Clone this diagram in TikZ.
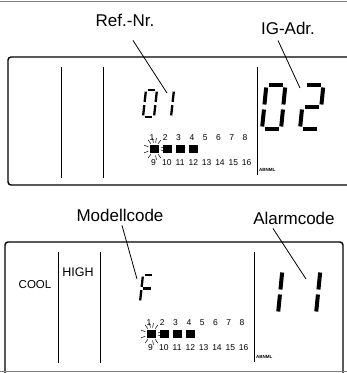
\documentclass[tikz,border=0pt]{standalone}
\usepackage{fontspec}
\setmainfont{Liberation Sans}
\usetikzlibrary{positioning}

% one seven-segment digit: #1 = place and size, #2 = segments as x1/y1/x2/y2
\newcommand\segdigit[2]{%
  \begin{scope}[#1]
    \foreach \xa/\ya/\xb/\yb in {#2}
      \draw (\xa,\ya) -- (\xb,\yb);
  \end{scope}}

\begin{document}
\begin{tikzpicture}[x=1pt,y=-1pt,
   lab/.style={font=\fontsize{17}{17}\selectfont,inner sep=0pt},
   lead/.style={line width=0.8pt},
   panel/.style={line width=1.4pt,rounded corners=3pt},
   bar/.style={line width=0.9pt},
   num/.style={font=\fontsize{8.5}{8.5}\selectfont,inner sep=0pt},
   sq/.style={fill,minimum size=8.5pt,inner sep=0pt},
   ray/.style={line width=0.5pt},
   tag/.style={font=\bfseries\fontsize{4.5}{4.5}\selectfont,inner sep=0pt,anchor=west},
   bigdig/.style={x=19pt,y=22pt,xslant=0.1,line width=4pt,shorten <=2.5pt,shorten >=2.5pt},
   smalldig/.style={x=11pt,y=13.5pt,xslant=0.11,line width=2.3pt,shorten <=1.6pt,shorten >=1.6pt}]
  \useasboundingbox (0,0) rectangle (347,373);
  \draw[gray,line width=1pt] (0,1) -- (347,1);

  % upper display
  \draw[panel] (348,57) -- (8,57) -- (8,185) -- (348,185);
  \draw[bar] (61,67) -- (61,178);
  \draw[bar] (103,67) -- (103,178);
  \draw[bar] (257,67) -- (257,175);
  \node[lab] (refnr) at (125,20) {Ref.-Nr.};
  \node[lab] (igadr) at (288,28) {IG-Adr.};
  \segdigit{shift={(143,117)},smalldig}{0/2/1/2, 1/2/1/1, 1/1/1/0, 0/0/1/0, 0/0/0/1, 0/1/0/2}
  \segdigit{shift={(160,117)},smalldig}{1/2/1/1, 1/1/1/0}
  \segdigit{shift={(262,129)},bigdig}{0/2/1/2, 1/2/1/1, 1/1/1/0, 0/0/1/0, 0/0/0/1, 0/1/0/2}
  \segdigit{shift={(300,129)},bigdig}{0/2/1/2, 1/2/1/1, 0/1/1/1, 0/1/0/0, 0/0/1/0}
  \foreach \i in {1,...,8} {
    \pgfmathtruncatemacro\j{\i+8}
    \node[num] (nU\i) at ({152+13.3*(\i-1)},138) {\i};
    \node[num] (nU\j) at ({153.5+13.3*(\i-1)},163) {\j};
  }
  \foreach \i in {0,...,3}
    \node[sq] (sqU\i) at (154.5+13*\i,149) {};
  \foreach \a in {10,55,80,125,160,200,235,260,280,305,350}
    \draw[ray] (sqU0) ++(\a:6.5) -- ++(\a:4.5);
  \node[tag] (abnmlU) at (259,170) {ABNML};
  \coordinate (refend) at (167,93);
  \coordinate (igend) at (300,88);
  \draw[lead] ([shift={(8,14)}]refnr.south) -- (refend);
  \draw[lead] ([shift={(-10,6)}]igadr.south) -- (igend);

  % lower display
  \draw[panel] (5,374) -- (5,242) -- (343,242) -- (343,374);
  \draw[gray,line width=1pt] (0,371) -- (347,371);
  \draw[bar] (58,252) -- (58,363);
  \draw[bar] (100,252) -- (100,363);
  \draw[bar] (254,252) -- (254,362);
  \node[lab] (modell) at (120,215) {Modellcode};
  \node[lab] (alarm) at (294,218) {Alarmcode};
  \node[font=\fontsize{11.5}{11.5}\selectfont,inner sep=0pt] (cool) at (35,285) {COOL};
  \node[font=\fontsize{12.5}{12.5}\selectfont,inner sep=0pt] (high) at (78,272) {HIGH};
  \segdigit{shift={(140,302)},smalldig}{0/2/1/2, 0/1/0/2, 0/1/1/1, 0/0/0/1}
  \segdigit{shift={(259,314)},bigdig}{1/2/1/1, 1/1/1/0}
  \segdigit{shift={(297,314)},bigdig}{1/2/1/1, 1/1/1/0}
  \foreach \i in {1,...,8} {
    \pgfmathtruncatemacro\j{\i+8}
    \node[num] (nL\i) at ({149+13.3*(\i-1)},323) {\i};
    \node[num] (nL\j) at ({150.5+13.3*(\i-1)},348) {\j};
  }
  \foreach \i in {0,...,3}
    \node[sq] (sqL\i) at (151.5+13*\i,334) {};
  \foreach \a in {10,55,80,125,160,200,235,260,280,305,350}
    \draw[ray] (sqL0) ++(\a:6.5) -- ++(\a:4.5);
  \node[tag] (abnmlL) at (256,357) {ABNML};
  \coordinate (modend) at (137,279);
  \coordinate (alend) at (306,279);
  \draw[lead] ([shift={(2,4)}]modell.south) -- (modend);
  \draw[lead] ([shift={(-21,4)}]alarm.south) -- (alend);
\end{tikzpicture}
\end{document}
